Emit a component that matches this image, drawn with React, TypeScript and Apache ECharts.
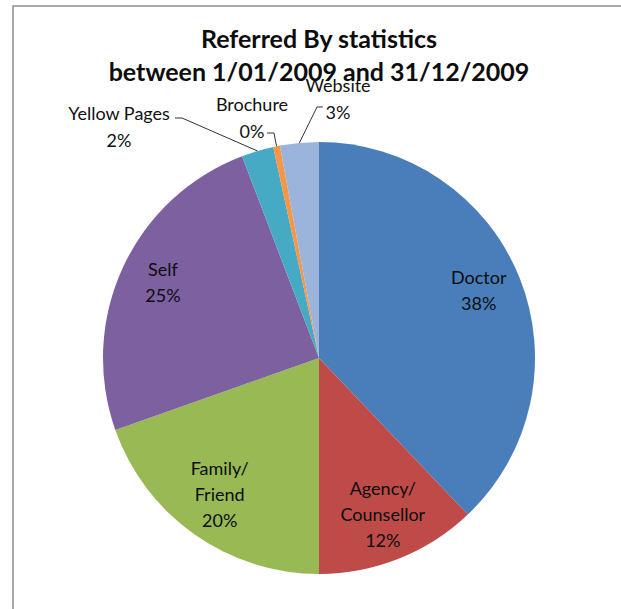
import React, { useEffect, useRef } from 'react';
import * as echarts from 'echarts';

const categories = ['Doctor', 'Agency/Counsellor', 'Family/Friend', 'Self', 'Yellow Pages', 'Brochure', 'Website'];
const shares = [37.9, 12.1, 19.6, 24.6, 2.4, 0.5, 2.9];
const sliceColors = ['#4A7EBB', '#BE4B48', '#98B954', '#7D60A0', '#46AAC5', '#F79646', '#9BB4DB'];
const titleLines = ['Referred By statistics', 'between 1/01/2009 and 31/12/2009'];
const outsideLabelled = ['Yellow Pages', 'Brochure', 'Website'];

const FONT = 'Lato, "Open Sans", sans-serif';
const CENTER = [319, 358];
const RADIUS = 216;
const INNER_LABEL_R0 = 122;

// placement of outer label blocks (centre) and leader-line attach offsets
const outerPlacement: Record<string, { x: number; y: number; attach: [number, number]; elbow: [number, number] }> = {
  'Yellow Pages': { x: 119, y: 126, attach: [56, -8], elbow: [63, -8] },
  Brochure: { x: 252, y: 117, attach: [15, 16], elbow: [22, 16] },
  Website: { x: 338, y: 98, attach: [-15, 9], elbow: [-21, 9] },
};

const labelText = (name: string) => name.replace('/', '/\n');

export default function App() {
  const ref = useRef<HTMLDivElement>(null);

  useEffect(() => {
    if (!ref.current) return;
    const chart = echarts.init(ref.current, null, { renderer: 'svg' });

    const mainData = categories.map((name, i) => {
      const outer = outsideLabelled.includes(name);
      return {
        name,
        value: shares[i],
        itemStyle: { color: sliceColors[i] },
        label: { show: outer },
        labelLine: { show: outer },
      };
    });

    const overlayData = categories.map((name, i) => ({
      name,
      value: shares[i],
      label: { show: !outsideLabelled.includes(name) },
    }));

    const option: any = {
      animation: false,
      backgroundColor: '#ffffff',
      graphic: [
        {
          type: 'rect',
          z: -10,
          shape: { x: 13, y: 6, width: 720, height: 720 },
          style: { fill: 'none', stroke: '#8c8c8c', lineWidth: 1.5 },
          silent: true,
        },
        ...titleLines.map((t, i) => ({
          type: 'text',
          x: 319,
          y: 38 + i * 33,
          z: 1,
          silent: true,
          style: {
            text: t,
            font: `bold 25px ${FONT}`,
            fill: '#0d0d0d',
            textAlign: 'center',
            textVerticalAlign: 'middle',
          },
        })),
      ],
      series: [
        {
          type: 'pie',
          center: CENTER,
          radius: RADIUS,
          startAngle: 90,
          clockwise: true,
          percentPrecision: 0,
          avoidLabelOverlap: false,
          silent: true,
          z: 2,
          itemStyle: { borderWidth: 0 },
          label: {
            position: 'outside',
            formatter: (p: any) => `${labelText(p.name)}\n${p.percent}%`,
            fontFamily: FONT,
            fontSize: 18,
            lineHeight: 27,
            color: '#111111',
            align: 'center',
          },
          labelLine: {
            lineStyle: { color: '#333333', width: 1 },
            length: 10,
            length2: 10,
          },
          labelLayout: (p: any) => {
            const pl = outerPlacement[categories[p.dataIndex]];
            if (!pl) return {};
            const res: any = { x: pl.x, y: pl.y, align: 'center', verticalAlign: 'middle' };
            if (p.labelLinePoints && p.labelLinePoints[0]) {
              res.labelLinePoints = [
                p.labelLinePoints[0],
                [pl.x + pl.elbow[0], pl.y + pl.elbow[1]],
                [pl.x + pl.attach[0], pl.y + pl.attach[1]],
              ];
            }
            return res;
          },
          emphasis: { disabled: true },
          data: mainData,
        },
        {
          type: 'pie',
          center: CENTER,
          radius: [INNER_LABEL_R0, RADIUS],
          startAngle: 90,
          clockwise: true,
          percentPrecision: 0,
          silent: true,
          z: 3,
          itemStyle: { color: 'rgba(0,0,0,0)', borderWidth: 0 },
          label: {
            position: 'inside',
            formatter: (p: any) => `${labelText(p.name)}\n${p.percent}%`,
            fontFamily: FONT,
            fontSize: 18,
            lineHeight: 26,
            color: '#0d0d0d',
            align: 'center',
          },
          labelLayout: { dy: -4 },
          labelLine: { show: false },
          emphasis: { disabled: true },
          data: overlayData,
        },
      ],
    };

    chart.setOption(option);
    return () => chart.dispose();
  }, []);

  return (
    <div
      ref={ref}
      style={{ position: 'absolute', left: 0, top: 0, width: 621, height: 609 }}
    />
  );
}
